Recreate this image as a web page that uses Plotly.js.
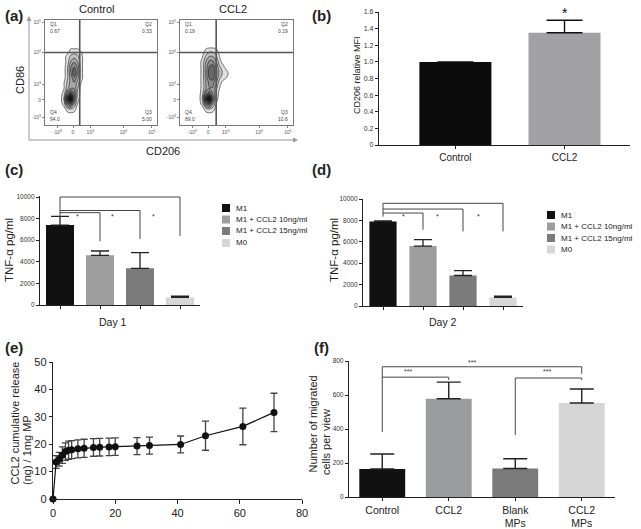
<!DOCTYPE html>
<html><head><meta charset="utf-8">
<script src="https://cdn.plot.ly/plotly-3.0.1.min.js"></script>
<style>html,body{margin:0;padding:0;background:#fff;}#chart{width:641px;height:529px;}</style>
</head><body><div id="chart"></div>
<script>
// ================= DATA =================
// (a) flow cytometry
const flowGroups = ['Control', 'CCL2'];
const flowTickText = ['-10<sup>3</sup>', '0', '10<sup>3</sup>', '10<sup>4</sup>', '10<sup>5</sup>'];
const flowXTickPos = [11, 25, 40.5, 70, 95.5];
const flowYTickPos = [7, 24, 39, 69, 98];
const quadNames = ['Q1', 'Q2', 'Q3', 'Q4'];
const quadControl = ['0.67', '0.33', '5.00', '94.0'];
const quadCCL2 = ['0.19', '0.19', '10.6', '89.0'];
const gateX = [31, 32];
const gateY = [69, 69];
const flowGridY = [10, 15, 20, 25, 30, 35, 40, 45, 50, 55, 60, 65, 70, 75];
const ctrlGridX = [14, 17, 20, 23, 26, 29, 32, 35, 38];
const densityControl = [
  [0, 0, 0, 0, 0, 0, 0, 0, 0],
  [0, 0, 1, 1.5, 1, 0, 0, 0, 0],
  [0, 1, 5, 6, 3, 0.5, 0, 0, 0],
  [0, 2, 8, 10, 5, 1, 0, 0, 0],
  [0, 1, 5, 7, 5, 1.5, 0, 0, 0],
  [0, 0.5, 2.5, 4, 4, 2, 0, 0, 0],
  [0, 0.5, 2, 3.5, 4, 2.5, 0.5, 0, 0],
  [0, 0, 1.5, 3.5, 5, 3.5, 1, 0, 0],
  [0, 0, 1.5, 4, 6.5, 4.5, 1, 0, 0],
  [0, 0, 1.5, 4, 5.5, 4, 1, 0, 0],
  [0, 0, 1, 3, 4, 3, 1, 0, 0],
  [0, 0, 1, 2, 2.5, 2, 1, 0, 0],
  [0, 0, 0, 1, 1, 1, 0.5, 0, 0],
  [0, 0, 0, 0, 0, 0, 0, 0, 0]
];
const ccl2GridX = [14, 17, 20, 23, 26, 29, 32, 35, 38, 41, 44];
const densityCCL2 = [
  [0, 0, 0, 0, 0, 0, 0, 0, 0, 0, 0],
  [0, 0, 0, 1, 1.5, 1, 0, 0, 0, 0, 0],
  [0, 0, 1, 5, 6, 3, 0.5, 0, 0, 0, 0],
  [0, 0, 2, 8, 10, 5, 1, 0, 0, 0, 0],
  [0, 0, 1.5, 5, 6, 4, 1.5, 0, 0, 0, 0],
  [0, 0, 1, 3, 4, 4, 2, 0.5, 0, 0, 0],
  [0, 0, 1, 3, 4.5, 4.5, 3, 1, 0, 0, 0],
  [0, 0, 1, 3.5, 5.5, 6, 4, 2, 1, 0.5, 0],
  [0, 0, 1, 3.5, 6, 6.5, 4.5, 2.5, 1.5, 1, 0],
  [0, 0, 1, 3.5, 5.5, 6, 4, 2, 1, 0, 0],
  [0, 0, 1, 3, 4.5, 4.5, 3, 1, 0, 0, 0],
  [0, 0, 0.5, 2, 3, 3, 2, 0.5, 0, 0, 0],
  [0, 0, 0, 1, 1.5, 1.5, 1, 0, 0, 0, 0],
  [0, 0, 0, 0, 0, 0, 0, 0, 0, 0, 0]
];

// (b) CD206 relative MFI
const mfiGroups = ['Control', 'CCL2'];
const mfiValues = [1.0, 1.35];
const mfiErr = [0, 0.15];
const mfiColors = ['#0b0b0b', '#a2a2a4'];
const mfiTickVals = [0, 0.2, 0.4, 0.6, 0.8, 1.0, 1.2, 1.4, 1.6];
const mfiTickText = ['0', '0.2', '0.4', '0.6', '0.8', '1.0', '1.2', '1.4', '1.6'];

// (c)/(d) TNF-alpha
const tnfGroups = ['M1', 'M1 + CCL2 10ng/ml', 'M1 + CCL2 15ng/ml', 'M0'];
const tnfColors = ['#111111', '#9d9d9d', '#7b7b7b', '#d6d6d6'];
const tnfDay1 = [7400, 4600, 3400, 700];
const tnfDay1Err = [800, 400, 1450, 130];
const tnfDay2 = [7900, 5600, 2850, 800];
const tnfDay2Err = [60, 600, 450, 120];
const tnfTickVals = [0, 2000, 4000, 6000, 8000, 10000];
const tnfTickText = ['0', '2000', '4000', '6000', '8000', '10000'];
const sigDay1To = [1, 2, 3];
const sigDay1Level = [8550, 8750, 10000];
const sigDay1End = [5900, 6100, 6400];
const sigDay1StarX = [0.44, 1.32, 2.33];
const sigDay1StarY = 8200;
const sigDay2To = [1, 2, 3];
const sigDay2Level = [8690, 9060, 9600];
const sigDay2End = [7125, 6970, 6970];
const sigDay2StarX = [0.5, 1.35, 2.38];
const sigDay2StarY = 8375;

// (e) CCL2 release
const releaseDays = [0, 1, 2, 3, 4, 5, 6, 8, 10, 13, 15, 18, 20, 27, 31, 41, 49, 61, 71];
const releaseNg = [0, 13.5, 14.5, 16, 17.3, 17.8, 18, 18.3, 18.5, 18.8, 18.9, 19, 19.1, 19.3, 19.5, 19.9, 23.1, 26.5, 31.6];
const releaseErr = [0, 2.3, 2.5, 3, 3.2, 3.3, 3.3, 3.3, 3.3, 3.2, 3.2, 3.2, 3.2, 3.1, 3.1, 3.1, 5.3, 6.7, 7.0];

// (f) migration
const migGroups = ['Control', 'CCL2', 'Blank<br>MPs', 'CCL2<br>MPs'];
const migValues = [165, 578, 168, 553];
const migErr = [88, 98, 57, 82];
const migColors = ['#111111', '#9b9c9e', '#7a7a7a', '#d5d5d5'];
const migTickVals = [0, 200, 400, 600, 800];
const sigMigFrom = [0, 0, 2];
const sigMigTo = [3, 1, 3];
const sigMigLevel = [766, 705, 700];
const sigMigLeftEnd = [382, 705, 365];
const sigMigRightEnd = [725, 688, 688];
const sigMigStarX = [1.35, 0.39, 2.48];
const sigMigStarY = [790, 737, 737];
const sigLabel = '***';

// ================= HELPERS =================
const W = 641, H = 529;
const fx = p => p / W;
const fy = p => 1 - p / H;
const FONT = 'Liberation Sans, Arial, Helvetica, sans-serif';
const idx = arr => arr.map((_, i) => i);

const traces = [];
const contourStyle = {
  type: 'contour', showscale: false, zmin: 0, zmax: 10, autocontour: false,
  contours: {start: 0.5, end: 10, size: 1.2, coloring: 'fill'},
  line: {color: '#1a1a1a', width: 0.6, smoothing: 1.3},
  colorscale: [[0, 'rgba(255,255,255,0)'], [0.04, 'rgba(255,255,255,0)'], [0.05, '#e4e4e4'], [0.5, '#8a8a8a'], [1, '#111111']],
  hoverinfo: 'skip'
};
traces.push(Object.assign({}, contourStyle, {x: ctrlGridX, y: flowGridY, z: densityControl, xaxis: 'x', yaxis: 'y'}));
traces.push(Object.assign({}, contourStyle, {x: ccl2GridX, y: flowGridY, z: densityCCL2, xaxis: 'x2', yaxis: 'y2'}));

function errUp(arr, color, width, thick) {
  return {type: 'data', array: arr, arrayminus: arr.map(() => 0), symmetric: false, color: color, thickness: thick, width: width};
}
traces.push({type: 'bar', x: idx(mfiGroups), y: mfiValues, width: 0.66, marker: {color: mfiColors, line: {width: 0}},
  error_y: errUp(mfiErr, '#111', 18, 1.4), xaxis: 'x3', yaxis: 'y3', hoverinfo: 'skip'});
traces.push({type: 'bar', x: idx(tnfGroups), y: tnfDay1, width: 0.7, marker: {color: tnfColors, line: {width: 0}},
  error_y: errUp(tnfDay1Err, '#222', 9, 1.3), xaxis: 'x4', yaxis: 'y4', hoverinfo: 'skip'});
traces.push({type: 'bar', x: idx(tnfGroups), y: tnfDay2, width: 0.68, marker: {color: tnfColors, line: {width: 0}},
  error_y: errUp(tnfDay2Err, '#222', 9, 1.3), xaxis: 'x5', yaxis: 'y5', hoverinfo: 'skip'});
traces.push({type: 'scatter', mode: 'lines+markers', x: releaseDays, y: releaseNg, cliponaxis: false,
  line: {color: '#111', width: 1.2}, marker: {color: '#111', size: 7},
  error_y: {type: 'data', array: releaseErr, symmetric: true, color: '#444', thickness: 1.3, width: 3.5},
  xaxis: 'x6', yaxis: 'y6', hoverinfo: 'skip'});
traces.push({type: 'bar', x: idx(migGroups), y: migValues, width: 0.69, marker: {color: migColors, line: {width: 0}},
  error_y: errUp(migErr, '#222', 12, 1.4), xaxis: 'x7', yaxis: 'y7', hoverinfo: 'skip'});

// ================= AXES =================
function flowAxis(l, r, anchor, tickpos) {
  return {domain: [fx(l), fx(r)], anchor: anchor, range: [0, 100], tickvals: tickpos, ticktext: flowTickText,
    ticks: 'outside', ticklen: 2, tickwidth: 0.8, tickcolor: '#666', tickfont: {size: 5, color: '#555', family: FONT},
    showline: true, mirror: true, linecolor: '#777', linewidth: 1, showgrid: false, zeroline: false};
}
function flowYAxis(top, bottom, anchor) {
  const a = flowAxis(0, 1, anchor, flowYTickPos);
  a.domain = [fy(bottom), fy(top)];
  return a;
}
function plainAxis(o) {
  return Object.assign({showline: true, linecolor: '#222', linewidth: 1.2, ticks: 'outside', ticklen: 3, tickwidth: 1,
    tickcolor: '#222', showgrid: false, zeroline: false, tickfont: {size: 6.5, color: '#333', family: FONT}}, o);
}
function yDom(px0, pxRef, refVal, maxVal) {
  const top = px0 - (px0 - pxRef) * maxVal / refVal;
  return [fy(px0), fy(top)];
}

const layout = {
  width: W, height: H, margin: {l: 0, r: 0, t: 0, b: 0}, paper_bgcolor: '#fff', plot_bgcolor: 'rgba(0,0,0,0)',
  showlegend: false, font: {family: FONT, color: '#222'}, barmode: 'group',
  xaxis: flowAxis(45, 157, 'y', flowXTickPos),
  yaxis: flowYAxis(20, 125, 'x'),
  xaxis2: flowAxis(180, 293, 'y2', flowXTickPos),
  yaxis2: flowYAxis(20, 125, 'x2'),
  xaxis3: plainAxis({domain: [fx(379), fx(630)], anchor: 'y3', range: [-0.7, 1.6], tickvals: idx(mfiGroups), ticktext: mfiGroups,
    tickfont: {size: 10, color: '#222', family: FONT}}),
  yaxis3: plainAxis({domain: [fy(145), fy(12)], anchor: 'x3', range: [0, 1.6], tickvals: mfiTickVals, ticktext: mfiTickText,
    tickfont: {size: 7, color: '#333', family: FONT}}),
  xaxis4: plainAxis({domain: [fx(40), fx(200)], anchor: 'y4', range: [-0.5, 3.5], tickvals: idx(tnfGroups), showticklabels: false}),
  yaxis4: plainAxis({domain: yDom(305, 197, 10000, 10100), anchor: 'x4', range: [0, 10100], tickvals: tnfTickVals, ticktext: tnfTickText}),
  xaxis5: plainAxis({domain: [fx(363), fx(523)], anchor: 'y5', range: [-0.5, 3.5], tickvals: idx(tnfGroups), showticklabels: false}),
  yaxis5: plainAxis({domain: yDom(306, 199, 10000, 10040), anchor: 'x5', range: [0, 10040], tickvals: tnfTickVals, ticktext: tnfTickText}),
  xaxis6: plainAxis({domain: [fx(53), fx(302)], anchor: 'y6', range: [0, 80], dtick: 20, ticklen: 4,
    tickfont: {size: 11, color: '#222', family: FONT}}),
  yaxis6: plainAxis({domain: [fy(499), fy(362)], anchor: 'x6', range: [0, 50], dtick: 10, ticklen: 3,
    tickfont: {size: 11, color: '#222', family: FONT}}),
  xaxis7: plainAxis({domain: [fx(349), fx(615)], anchor: 'y7', range: [-0.5, 3.5], tickvals: idx(migGroups), ticktext: migGroups,
    tickfont: {size: 10.5, color: '#222', family: FONT}}),
  yaxis7: plainAxis({domain: [fy(497), fy(361)], anchor: 'x7', range: [0, 800], tickvals: migTickVals}),
  shapes: [], annotations: []
};

const S = layout.shapes, A = layout.annotations;
function line(xref, yref, x0, y0, x1, y1, color, w) {
  S.push({type: 'line', xref: xref, yref: yref, x0: x0, y0: y0, x1: x1, y1: y1, line: {color: color, width: w}});
}
function txt(xpx, ypx, text, size, o) {
  A.push(Object.assign({xref: 'paper', yref: 'paper', x: fx(xpx), y: fy(ypx), text: text, showarrow: false,
    xanchor: 'center', yanchor: 'middle', font: {size: size, color: '#222', family: FONT}}, o || {}));
}
function pathPx(pts, color) {
  const d = pts.map((p, i) => (i ? 'L' : 'M') + fx(p[0]) + ',' + fy(p[1])).join(' ') + ' Z';
  S.push({type: 'path', xref: 'paper', yref: 'paper', path: d, fillcolor: color, line: {width: 0}});
}

// ---- (a) ----
[['x', 'y'], ['x2', 'y2']].forEach((ax, i) => {
  line(ax[0], ax[1], gateX[i], 0, gateX[i], 100, '#555', 1.6);
  line(ax[0], ax[1], 0, gateY[i], 100, gateY[i], '#555', 1.6);
  const vals = i === 0 ? quadControl : quadCCL2;
  const pos = [[3, 93, 'left'], [97, 93, 'right'], [97, 9.5, 'right'], [3, 9.5, 'left']];
  quadNames.forEach((q, k) => {
    A.push({xref: ax[0], yref: ax[1], x: pos[k][0], y: pos[k][1], text: q + '<br>' + vals[k], showarrow: false,
      xanchor: pos[k][2], yanchor: 'middle', align: pos[k][2], font: {size: 5, color: '#444', family: FONT}});
  });
});
line('paper', 'paper', fx(29), fy(140), fx(29), fy(19), '#999', 1);
line('paper', 'paper', fx(29), fy(140), fx(295), fy(140), '#999', 1);
pathPx([[26.5, 21], [29, 16], [31.5, 21]], '#999');
pathPx([[293, 137.5], [298, 140], [293, 142.5]], '#999');
txt(96, 9, flowGroups[0], 11);
txt(233, 9, flowGroups[1], 11);
txt(20, 80, 'CD86', 11, {textangle: -90});
txt(163, 151, 'CD206', 11);

// ---- panel letters ----
txt(14, 15, '<b>(a)</b>', 15); txt(322, 15, '<b>(b)</b>', 15);
txt(14, 170, '<b>(c)</b>', 15); txt(322, 170, '<b>(d)</b>', 15);
txt(14, 347, '<b>(e)</b>', 15); txt(322, 347, '<b>(f)</b>', 15);

// ---- (b) ----
txt(357, 75, 'CD206 relative MFI', 9, {textangle: -90});
txt(564.5, 13, '*', 14, {font: {size: 14, color: '#111', family: FONT}});

// ---- (c), (d) ----
function brackets(xr, yr, to, level, end, leftEnd) {
  line(xr, yr, 0, Math.max(...level), 0, leftEnd, '#444', 1);
  to.forEach((t, k) => {
    line(xr, yr, 0, level[k], t, level[k], '#444', 1);
    line(xr, yr, t, level[k], t, end[k], '#444', 1);
  });
}
brackets('x4', 'y4', sigDay1To, sigDay1Level, sigDay1End, 8200);
brackets('x5', 'y5', sigDay2To, sigDay2Level, sigDay2End, 8350);
sigDay1StarX.forEach(sx => A.push({xref: 'x4', yref: 'y4', x: sx, y: sigDay1StarY, text: '*', showarrow: false, font: {size: 7, color: '#333'}}));
sigDay2StarX.forEach(sx => A.push({xref: 'x5', yref: 'y5', x: sx, y: sigDay2StarY, text: '*', showarrow: false, font: {size: 7, color: '#333'}}));
txt(9, 250, 'TNF-α pg/ml', 11.5, {textangle: -90});
txt(334, 250, 'TNF-α pg/ml', 11.5, {textangle: -90});
txt(113, 322, 'Day 1', 10.5);
txt(443, 322, 'Day 2', 10.5);
function legendBox(xSq, yRows) {
  tnfGroups.forEach((g, k) => {
    S.push({type: 'rect', xref: 'paper', yref: 'paper', x0: fx(xSq), x1: fx(xSq + 8), y0: fy(yRows[k] + 4), y1: fy(yRows[k] - 4),
      fillcolor: tnfColors[k], line: {width: 0}});
    txt(xSq + 12, yRows[k], g, 8, {xanchor: 'left'});
  });
}
legendBox(222, [208, 219.5, 231, 243]);
legendBox(547, [215, 226.5, 238, 249.5]);

// ---- (e) ----
txt(14, 487, 'CCL2 cumulative release', 11, {textangle: -90, yanchor: 'bottom'});
txt(27, 487, '(ng) / 1mg MP', 11, {textangle: -90, yanchor: 'bottom'});

// ---- (f) ----
sigMigFrom.forEach((f, k) => {
  line('x7', 'y7', f, sigMigLevel[k], sigMigTo[k], sigMigLevel[k], '#444', 1);
  line('x7', 'y7', f, sigMigLevel[k], f, sigMigLeftEnd[k], '#444', 1);
  line('x7', 'y7', sigMigTo[k], sigMigLevel[k], sigMigTo[k], sigMigRightEnd[k], '#444', 1);
  A.push({xref: 'x7', yref: 'y7', x: sigMigStarX[k], y: sigMigStarY[k], text: sigLabel, showarrow: false, font: {size: 7, color: '#333'}});
});
txt(312, 475, 'Number of migrated', 11, {textangle: -90, yanchor: 'bottom'});
txt(326, 477, 'cells per view', 11, {textangle: -90, yanchor: 'bottom'});

Plotly.newPlot('chart', traces, layout, {staticPlot: true, displayModeBar: false});
</script>
</body></html>
